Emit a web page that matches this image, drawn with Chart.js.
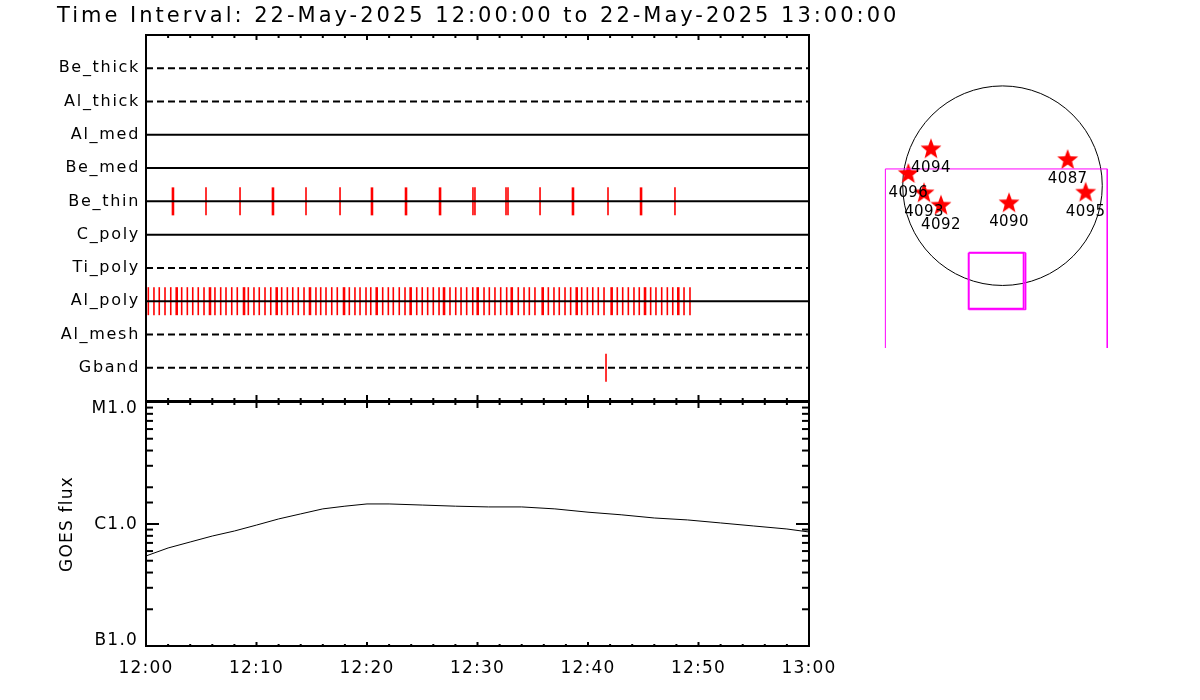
<!DOCTYPE html>
<html>
<head>
<meta charset="utf-8">
<script src="https://cdn.jsdelivr.net/npm/chart.js@4.4.1/dist/chart.umd.min.js"></script>
<style>
	html, body { margin: 0; padding: 0; background: #fff; }
	body { position: relative; width: 1200px; height: 700px; overflow: hidden; }
	canvas { position: absolute; }
	#top { left: 0; top: 0; }
	#goes { left: 0; top: 395px; }
	#map { left: 860px; top: 50px; }
</style>
</head>
<body>
<canvas id="top" width="920" height="402"></canvas>
<canvas id="goes" width="840" height="305"></canvas>
<canvas id="map" width="280" height="298"></canvas>
<script>
const TITLE = 'Time Interval: 22-May-2025 12:00:00 to 22-May-2025 13:00:00';
const FONT = 'DejaVu Sans';

// x axis: minutes after 12:00
const timeLabels = ['12:00', '12:10', '12:20', '12:30', '12:40', '12:50', '13:00'];

// filter rows, bottom to top
const rowNames = ['Gband', 'Al_mesh', 'Al_poly', 'Ti_poly', 'C_poly', 'Be_thin', 'Be_med', 'Al_med', 'Al_thick', 'Be_thick'];
const rowDashed = [true, true, false, true, false, false, false, false, true, true];

// exposure marks (minutes after 12:00)
const beThinTimes = [2.44, 5.43, 8.51, 11.49, 14.48, 17.56, 20.45, 23.53, 26.61, 29.59, 29.77, 32.58, 32.76, 35.66, 38.64, 41.81, 44.80, 47.87];
const beThinLong = [2.44, 11.49, 20.45, 23.53, 26.61, 38.64, 44.80];

const alPolyTimes = [0.21, 0.72, 1.20, 1.72, 2.24, 2.78, 3.23, 3.74, 4.23, 4.73, 5.25, 5.79, 6.24, 6.76, 7.24, 7.76,
	8.26, 8.87, 9.26, 9.77, 10.25, 10.77, 11.29, 11.83, 12.28, 12.79, 13.28, 13.78, 14.30, 14.84, 15.38, 15.81,
	16.29, 16.81, 17.31, 17.92, 18.40, 18.91, 19.37, 19.91, 20.34, 20.88, 21.42, 21.93, 22.38, 22.92, 23.44, 23.95,
	24.50, 25.00, 25.49, 26.00, 26.52, 26.97, 27.51, 28.03, 28.51, 29.02, 29.57, 30.02, 30.59, 31.07, 31.58, 32.10,
	32.64, 33.10, 33.69, 34.21, 34.69, 35.20, 35.90, 36.41, 36.92, 37.40, 37.92, 38.43, 38.98, 39.43, 39.94, 40.43,
	40.93, 41.45, 42.14, 42.65, 43.14, 43.65, 44.16, 44.64, 45.16, 45.67, 46.15, 46.67, 47.18, 47.67, 48.17, 48.69, 49.23];
const alPolyLong = [2.78, 5.79, 8.87, 11.83, 14.84, 17.92, 20.88, 23.95, 26.97, 30.02, 33.10, 35.90, 38.98, 42.14, 45.16, 48.17];

const gbandTimes = [41.63];

// GOES 1-8 A flux (W/m^2)
const goesMinutes = [0, 2, 4, 6, 8, 10, 12, 14, 16, 18, 20, 22, 25, 28, 31, 34, 37, 40, 43, 46, 49, 52, 55, 58, 60];
const goesFlux = [5.47e-7, 6.36e-7, 7.12e-7, 7.97e-7, 8.76e-7, 9.8e-7, 1.10e-6, 1.21e-6, 1.33e-6, 1.40e-6, 1.46e-6, 1.46e-6,
	1.43e-6, 1.40e-6, 1.38e-6, 1.38e-6, 1.33e-6, 1.25e-6, 1.19e-6, 1.12e-6, 1.08e-6, 1.02e-6, 9.63e-7, 9.1e-7, 8.6e-7];
const goesClassValues = [1e-7, 1e-6, 1e-5];
const goesClassLabels = ['B1.0', 'C1.0', 'M1.0'];

// active regions (arcsec)
const arNames = ['4094', '4096', '4093', '4092', '4090', '4087', '4095'];
const arX = [-688, -906, -755, -592, 63, 627, 800];
const arY = [350, 113, -73, -192, -169, 247, -67];
const sunRadius = 960;

// field of view outlines (arcsec)
const fovX = [-1127, -1127, 1008, 1008];
const fovY = [-1561, 161, 161, -1561];
const boxAX = [-325, 204, 204, -325, -325];
const boxAY = [-645, -645, -1183, -1183, -645];
const boxBX = [-325, 223, 223, -325];
const boxBY = [-645, -645, -1193, -1193];

const toPoints = (xs, ys) => xs.map((x, i) => ({x: x, y: ys[i]}));

function noPad(s) {
	s.paddingTop = s.paddingBottom = s.paddingLeft = s.paddingRight = 0;
}

const spacing = {
	id: 'spacing',
	beforeUpdate(chart, args, o) { chart.ctx.letterSpacing = o.px + 'px'; },
	beforeDraw(chart, args, o) { chart.ctx.letterSpacing = o.px + 'px'; },
};

function tickLine(ctx, x1, y1, x2, y2) {
	ctx.beginPath();
	ctx.moveTo(x1, y1);
	ctx.lineTo(x2, y2);
	ctx.stroke();
}

// box round the plot, with ticks pointing inward
const frame = {
	id: 'frame',
	afterDatasetsDraw(chart, args, o) {
		const {ctx, chartArea: a} = chart;
		ctx.save();
		ctx.strokeStyle = '#000';
		ctx.lineWidth = 2;
		ctx.strokeRect(a.left, a.top, a.right - a.left, a.bottom - a.top);
		const x = chart.scales.x;
		x.ticks.forEach(t => {
			const px = x.getPixelForValue(t.value);
			const major = Math.abs(t.value % 10) < 1e-6;
			tickLine(ctx, px, a.top, px, a.top + (major ? o.topMajor : o.topMinor));
			tickLine(ctx, px, a.bottom, px, a.bottom - (major ? o.bottomMajor : o.bottomMinor));
		});
		if (o.yTicks) {
			const y = chart.scales.y;
			y.ticks.forEach(t => {
				const py = y.getPixelForValue(t.value);
				const lg = Math.log10(t.value);
				const len = Math.abs(lg - Math.round(lg)) < 1e-6 ? 13 : 7;
				tickLine(ctx, a.left, py, a.left + len, py);
				tickLine(ctx, a.right, py, a.right - len, py);
			});
			// class labels, kept inside the axis range
			ctx.font = '17px "' + FONT + '"';
			ctx.letterSpacing = '1.2px';
			ctx.fillStyle = '#000';
			ctx.textAlign = 'right';
			ctx.textBaseline = 'middle';
			goesClassValues.forEach((v, i) => {
				const py = y.getPixelForValue(v);
				const ty = Math.min(Math.max(py + 1, a.top + 7), a.bottom - 5);
				ctx.fillText(goesClassLabels[i], a.left - 8, ty);
			});
		}
		ctx.restore();
	},
};

const title = {
	id: 'title',
	afterDraw(chart) {
		const ctx = chart.ctx;
		ctx.save();
		ctx.font = '21px "' + FONT + '"';
		ctx.letterSpacing = '3px';
		ctx.fillStyle = '#000';
		ctx.textAlign = 'left';
		ctx.textBaseline = 'alphabetic';
		ctx.fillText(TITLE, 57, 22);
		ctx.restore();
	},
};

function markSet(times, longTimes, row) {
	return {
		data: times.map(t => ({x: t, y: row})),
		pointStyle: 'line',
		pointRotation: 90,
		pointRadius: 14,
		pointBorderColor: '#ff0000',
		pointBackgroundColor: '#ff0000',
		pointBorderWidth: times.map(t => longTimes.includes(t) ? 2.6 : 1.6),
		showLine: false,
		order: 1,
	};
}

const rowSets = rowNames.map((name, i) => ({
	label: name,
	data: [{x: 0, y: i + 1}, {x: 60, y: i + 1}],
	showLine: true,
	borderColor: '#000',
	borderWidth: 2,
	borderDash: rowDashed[i] ? [7, 4] : [],
	pointRadius: 0,
	order: 0,
}));

new Chart(document.getElementById('top'), {
	type: 'scatter',
	data: {
		datasets: [
			...rowSets,
			markSet(beThinTimes, beThinLong, 6),
			markSet(alPolyTimes, alPolyLong, 3),
			markSet(gbandTimes, [], 1),
		],
	},
	options: {
		responsive: false,
		animation: false,
		events: [],
		layout: {autoPadding: false, padding: {top: 35, right: 111, bottom: 1, left: 0}},
		plugins: {
			legend: {display: false},
			tooltip: {enabled: false},
			spacing: {px: 1.7},
			frame: {topMajor: 5, topMinor: 3, bottomMajor: 6, bottomMinor: 3},
		},
		scales: {
			x: {
				type: 'linear', min: 0, max: 60,
				ticks: {display: false, stepSize: 2},
				grid: {display: false, drawTicks: false},
				border: {display: false},
				afterFit(s) { s.height = 0; noPad(s); },
			},
			y: {
				type: 'linear', min: 0, max: 11,
				ticks: {
					stepSize: 1, autoSkip: false, padding: 6, color: '#000',
					font: {family: FONT, size: 16},
					callback: v => rowNames[v - 1] || '',
				},
				grid: {display: false, drawTicks: false},
				border: {display: false},
				afterFit(s) { s.width = 146; noPad(s); },
			},
		},
	},
	plugins: [spacing, frame, title],
});

new Chart(document.getElementById('goes'), {
	type: 'scatter',
	data: {
		datasets: [{
			data: toPoints(goesMinutes, goesFlux),
			showLine: true,
			borderColor: '#000',
			borderWidth: 1,
			pointRadius: 0,
			tension: 0,
		}],
	},
	options: {
		responsive: false,
		animation: false,
		events: [],
		layout: {autoPadding: false, padding: {top: 7, right: 31, bottom: 0, left: 0}},
		plugins: {
			legend: {display: false},
			tooltip: {enabled: false},
			spacing: {px: 1.2},
			frame: {topMajor: 6, topMinor: 3, bottomMajor: 4, bottomMinor: 2, yTicks: true},
		},
		scales: {
			x: {
				type: 'linear', min: 0, max: 60,
				ticks: {
					stepSize: 2, autoSkip: false, maxRotation: 0, minRotation: 0, padding: 12, color: '#000',
					font: {family: FONT, size: 17},
					callback: v => v % 10 === 0 ? timeLabels[v / 10] : '',
				},
				grid: {display: false, drawTicks: false},
				border: {display: false},
				afterFit(s) { s.height = 54; noPad(s); },
			},
			y: {
				type: 'logarithmic', min: 1e-7, max: 1e-5,
				ticks: {display: false, autoSkip: false},
				title: {
					display: true, text: 'GOES flux', color: '#000',
					font: {family: FONT, size: 17},
					padding: {top: 57, bottom: 0},
				},
				grid: {display: false, drawTicks: false},
				border: {display: false},
				afterFit(s) { s.width = 146; noPad(s); },
			},
		},
	},
	plugins: [spacing, frame],
});

// filled five-point star for the region markers
function starImage(r) {
	const c = document.createElement('canvas');
	c.width = c.height = 2 * r + 2;
	const ctx = c.getContext('2d');
	ctx.fillStyle = '#ff0000';
	ctx.beginPath();
	for (let k = 0; k < 10; k++) {
		const rad = k % 2 ? r * 0.42 : r;
		const ang = -Math.PI / 2 + k * Math.PI / 5;
		ctx.lineTo(r + 1 + rad * Math.cos(ang), r + 1 + rad * Math.sin(ang));
	}
	ctx.closePath();
	ctx.fill();
	return c;
}

const disk = {
	id: 'disk',
	beforeDatasetsDraw(chart) {
		const {ctx, scales: {x, y}} = chart;
		const cx = x.getPixelForValue(0);
		const cy = y.getPixelForValue(0);
		const r = x.getPixelForValue(sunRadius) - cx;
		ctx.save();
		ctx.strokeStyle = '#000';
		ctx.lineWidth = 1;
		ctx.beginPath();
		ctx.arc(cx, cy, r, 0, 2 * Math.PI);
		ctx.stroke();
		ctx.restore();
	},
	afterDatasetsDraw(chart) {
		const {ctx, scales: {x, y}} = chart;
		ctx.save();
		ctx.font = '15px "' + FONT + '"';
		ctx.letterSpacing = '0.4px';
		ctx.fillStyle = '#000';
		ctx.textAlign = 'center';
		ctx.textBaseline = 'middle';
		arNames.forEach((n, i) => {
			ctx.fillText(n, x.getPixelForValue(arX[i]), y.getPixelForValue(arY[i]) + 19);
		});
		ctx.restore();
	},
};

new Chart(document.getElementById('map'), {
	type: 'scatter',
	data: {
		datasets: [
			{
				data: toPoints(fovX, fovY), showLine: true,
				borderColor: '#ff00ff', borderWidth: 1, pointRadius: 0,
			},
			{
				data: toPoints(boxBX, boxBY), showLine: true,
				borderColor: '#ff00ff', borderWidth: 1, pointRadius: 0,
			},
			{
				data: toPoints(boxAX, boxAY), showLine: true,
				borderColor: '#ff00ff', borderWidth: 2, pointRadius: 0,
			},
			{
				data: toPoints(arX, arY),
				pointStyle: starImage(11),
				pointRadius: 11,
			},
		],
	},
	options: {
		responsive: false,
		animation: false,
		events: [],
		layout: {autoPadding: false, padding: 0},
		plugins: {legend: {display: false}, tooltip: {enabled: false}},
		scales: {
			x: {type: 'linear', display: false, min: -1371, max: 1323},
			y: {type: 'linear', display: false, min: -1561, max: 1305},
		},
	},
	plugins: [disk],
});
</script>
</body>
</html>
